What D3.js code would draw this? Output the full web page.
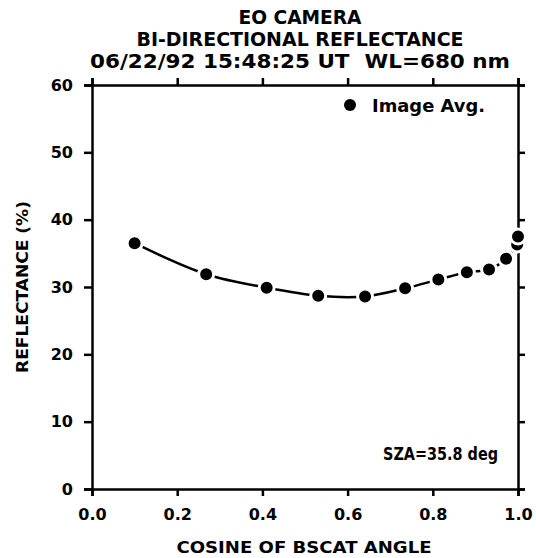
<!DOCTYPE html>
<html lang="en">
<head>
    <meta charset="utf-8">
    <script src="https://d3js.org/d3.v7.min.js"></script>
    <style>
        body { margin: 0; background: white; }
        text {
            font-family: "DejaVu Sans", sans-serif;
            font-weight: bold;
            fill: black;
            white-space: pre;
        }
        .title { font-size: 19px; text-anchor: middle; }
        .tick text { font-size: 16px; }
        .label { font-size: 16px; text-anchor: middle; }
        .domain, .tick line { stroke: black; stroke-width: 2.5px; }
    </style>
</head>
<body>
<script>
    // cosine of backscatter angle vs. reflectance (%)
    let cosAngle = [0.10, 0.268, 0.41, 0.531, 0.641, 0.735, 0.813, 0.88, 0.932, 0.972, 0.998, 1.0];
    let reflectance = [36.5, 31.9, 29.9, 28.7, 28.6, 29.8, 31.1, 32.2, 32.6, 34.2, 36.3, 37.5];
    let xTicks = [0, 0.2, 0.4, 0.6, 0.8, 1.0];
    let yTicks = [0, 10, 20, 30, 40, 50, 60];
    let titleLines = ['EO CAMERA', 'BI-DIRECTIONAL REFLECTANCE', '06/22/92 15:48:25 UT  WL=680 nm'];

    let width = 536, height = 558;
    let plotL = 92, plotR = 518, plotT = 85, plotB = 489;

    let svg = d3.select('body').append('svg')
        .attr('width', width).attr('height', height);

    let x = d3.scaleLinear().domain([0, 1]).range([plotL, plotR]);
    let y = d3.scaleLinear().domain([0, 60]).range([plotB, plotT]);

    // titles
    let titleY = [17, 39, 61];
    let titleW = [123, 327, 420];
    svg.selectAll('.title').data(titleLines).enter().append('text')
        .attr('class', 'title')
        .attr('x', 300)
        .attr('y', (d, i) => titleY[i])
        .attr('dy', '0.36em')
        .attr('textLength', (d, i) => titleW[i])
        .attr('lengthAdjust', 'spacingAndGlyphs')
        .text(d => d);

    // axes on all four sides
    svg.append('g').attr('transform', 'translate(0,' + plotB + ')')
        .call(d3.axisBottom(x).tickValues(xTicks).tickFormat(d3.format('.1f')).tickSize(7).tickPadding(13));
    svg.append('g').attr('transform', 'translate(0,' + plotT + ')')
        .call(d3.axisTop(x).tickValues(xTicks).tickFormat('').tickSize(7));
    svg.append('g').attr('transform', 'translate(' + plotL + ',0)')
        .call(d3.axisLeft(y).tickValues(yTicks).tickSize(8).tickPadding(11));
    svg.append('g').attr('transform', 'translate(' + plotR + ',0)')
        .call(d3.axisRight(y).tickValues(yTicks).tickFormat('').tickSize(7));

    // axis titles
    svg.append('text').attr('class', 'label')
        .attr('x', 304).attr('y', 547).attr('dy', '0.36em')
        .attr('textLength', 255).attr('lengthAdjust', 'spacingAndGlyphs')
        .text('COSINE OF BSCAT ANGLE');
    svg.append('text').attr('class', 'label')
        .attr('transform', 'translate(22,' + ((plotT + plotB) / 2) + ') rotate(-90)')
        .attr('dy', '0.36em')
        .attr('textLength', 172).attr('lengthAdjust', 'spacingAndGlyphs')
        .text('REFLECTANCE (%)');

    // fitted curve through the averages
    let pts = cosAngle.map((c, i) => [c, reflectance[i]]);
    let line = d3.line()
        .x(d => x(d[0])).y(d => y(d[1]))
        .curve(d3.curveCatmullRom);
    svg.append('path')
        .attr('d', line(pts))
        .attr('fill', 'none')
        .attr('stroke', 'black')
        .attr('stroke-width', 2.5);

    svg.append('g').selectAll('circle').data(pts).enter().append('circle')
        .attr('cx', d => x(d[0]))
        .attr('cy', d => y(d[1]))
        .attr('r', 7.5)
        .attr('fill', 'black')
        .attr('stroke', 'white')
        .attr('stroke-width', 3);

    // legend
    svg.append('circle').attr('cx', 350).attr('cy', 105).attr('r', 6).attr('fill', 'black');
    svg.append('text')
        .attr('x', 372).attr('y', 106).attr('dy', '0.36em')
        .attr('textLength', 113).attr('lengthAdjust', 'spacingAndGlyphs')
        .style('font-size', '17px')
        .text('Image Avg.');

    svg.append('text')
        .attr('x', 383).attr('y', 454).attr('dy', '0.36em')
        .attr('textLength', 115).attr('lengthAdjust', 'spacingAndGlyphs')
        .style('font-size', '18px')
        .text('SZA=35.8 deg');
</script>
</body>
</html>
